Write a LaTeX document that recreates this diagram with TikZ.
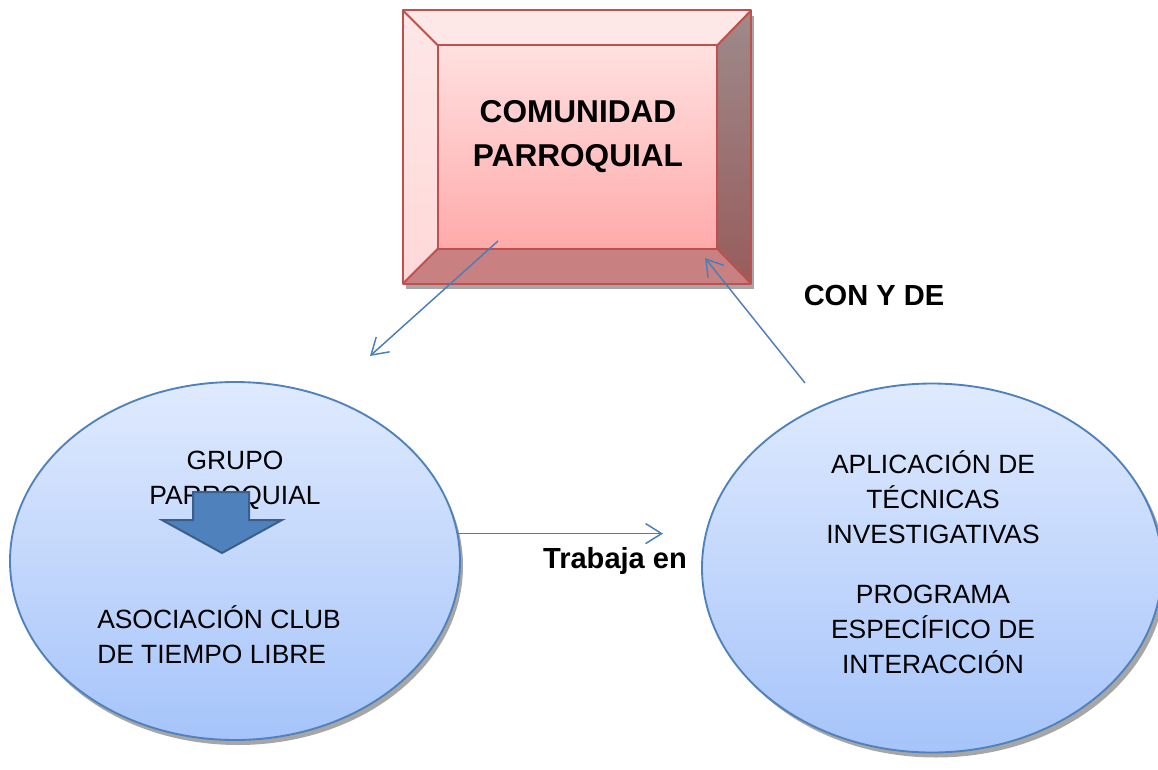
\documentclass[tikz,border=0pt]{standalone}
\usepackage{fontspec}
\setmainfont{Liberation Sans}
\usetikzlibrary{shapes.geometric,arrows.meta,calc}
\definecolor{boxRed}{HTML}{C0504D}
\definecolor{faceTop}{HTML}{FFE0E0}
\definecolor{faceBottom}{HTML}{FFAAAA}
\definecolor{bevelTop}{HTML}{FEE7E7}
\definecolor{bevelLeft}{HTML}{FFD8D8}
\definecolor{bevelRightTop}{HTML}{9E8A8A}
\definecolor{bevelRightBottom}{HTML}{985C5C}
\definecolor{bevelBottom}{HTML}{C98080}
\definecolor{ovalTop}{HTML}{DFEAFE}
\definecolor{ovalBottom}{HTML}{A6C4FA}
\definecolor{ovalBorder}{HTML}{4F81BD}
\definecolor{linkBlue}{HTML}{4A7EBB}
\definecolor{arrowDark}{HTML}{3A5F8B}
\definecolor{shadowGray}{HTML}{A6A6A6}
\tikzset{
  oval/.style={ellipse, draw=ovalBorder, line width=1.4pt, top color=ovalTop, bottom color=ovalBottom, inner sep=0pt},
  ovalshadow/.style={ellipse, fill=shadowGray, inner sep=0pt},
  bevel/.style={draw=boxRed, line width=1.5pt, line join=round},
  link/.style={draw=linkBlue, line width=1.1pt, -{Straight Barb[length=12pt,width=15pt,line width=1.1pt]}},
  txt/.style={font=\fontsize{19.8}{26.25}\selectfont, align=center, inner sep=0pt},
  boldtxt/.style={font=\fontsize{21.8}{26.25}\selectfont\bfseries, inner sep=0pt}
}
\begin{document}
\begin{tikzpicture}[x=0.75pt,y=-0.75pt]
\useasboundingbox (0,0) rectangle (1158,769);

% comunidad box
\fill[shadowGray] (406,16) rectangle (754,289);
\node[minimum width=261pt, minimum height=204.75pt, inner sep=0pt] (comunidad) at (577,147) {};
\coordinate (inNW) at ($(comunidad.north west)+(35,35)$);
\coordinate (inNE) at ($(comunidad.north east)+(-34,35)$);
\coordinate (inSW) at ($(comunidad.south west)+(35,-35)$);
\coordinate (inSE) at ($(comunidad.south east)+(-34,-35)$);
\fill[top color=faceTop, bottom color=faceBottom] (inNW) rectangle (inSE);
\fill[bevelTop] (comunidad.north west) -- (comunidad.north east) -- (inNE) -- (inNW) -- cycle;
\fill[top color=bevelTop, bottom color=bevelLeft] (comunidad.north west) -- (inNW) -- (inSW) -- (comunidad.south west) -- cycle;
\fill[top color=bevelRightTop, bottom color=bevelRightBottom] (comunidad.north east) -- (comunidad.south east) -- (inSE) -- (inNE) -- cycle;
\fill[bevelBottom] (comunidad.south west) -- (comunidad.south east) -- (inSE) -- (inSW) -- cycle;
\draw[bevel] (comunidad.north west) rectangle (comunidad.south east);
\draw[bevel] (inNW) rectangle (inSE);
\draw[bevel] (comunidad.north west) -- (inNW);
\draw[bevel] (comunidad.north east) -- (inNE);
\draw[bevel] (comunidad.south west) -- (inSW);
\draw[bevel] (comunidad.south east) -- (inSE);
\node[font=\fontsize{23.7}{33}\selectfont\bfseries, align=center, inner sep=0pt, anchor=base] (comunidadtxt) at (578,166) {COMUNIDAD\\PARROQUIAL};

% left ellipse
\node[ovalshadow, minimum width=337.5pt, minimum height=268.5pt] at (238,566) {};
\node[oval, minimum width=337.5pt, minimum height=268.5pt] (grupo) at (235,561) {};
\node[txt, anchor=base] (grupotxt) at (235,504) {GRUPO\\PARROQUIAL};
\node[txt, align=left, anchor=base west] (asociacion) at (97,663) {ASOCIACIÓN CLUB\\DE TIEMPO LIBRE};
\filldraw[fill=ovalBorder, draw=arrowDark, line width=1.5pt, line join=miter]
  (193,492) -- (249,492) -- (249,520) -- (282,520) -- (222,553) -- (162,520) -- (193,520) -- cycle;

% right ellipse
\node[ovalshadow, minimum width=345pt, minimum height=276.75pt] at (936,573) {};
\node[oval, minimum width=345pt, minimum height=276.75pt] (programa) at (932,568) {};
\node[txt, anchor=base] (tecnicas) at (933,543) {APLICACIÓN DE\\TÉCNICAS\\INVESTIGATIVAS};
\node[txt, anchor=base] (interaccion) at (933,673) {PROGRAMA\\ESPECÍFICO DE\\INTERACCIÓN};

% labels
\node[boldtxt, anchor=base] (conyde) at (874,305) {CON Y DE};
\node[boldtxt, anchor=base] (trabaja) at (615,568) {Trabaja en};

% connectors
\coordinate (fromBox) at (498,241);
\coordinate (toGrupo) at (370,356);
\coordinate (fromProg) at (805,383);
\coordinate (toBox) at (705,258);
\coordinate (toProg) at (663,531);
\draw[link] (fromBox) -- (toGrupo);
\draw[link] (fromProg) -- (toBox);
\draw[link] (grupo.7.7) -- (grupo.7.7 -| toProg);

\end{tikzpicture}
\end{document}
